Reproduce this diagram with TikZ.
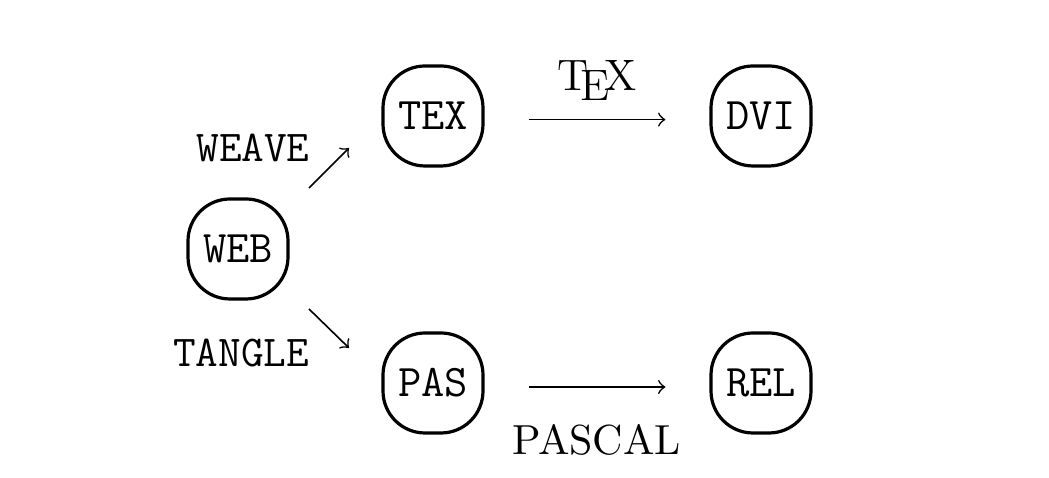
\documentclass[tikz,border=0pt]{standalone}
\usetikzlibrary{calc}
\begin{document}
\begin{tikzpicture}[x=0.25pt,y=-0.25pt,
  box/.style={draw, line width=0.8pt, rounded corners=10.5pt, minimum width=25pt, minimum height=25pt, inner sep=0pt, font=\fontsize{11.3}{13}\selectfont\ttfamily},
  arr/.style={->, line width=0.4pt},
  ttlab/.style={font=\fontsize{11}{13}\selectfont\ttfamily, inner sep=0pt, anchor=base},
  rmlab/.style={font=\fontsize{10.5}{12}\selectfont, inner sep=0pt, anchor=base}]
\useasboundingbox (0,0) rectangle (1049,478);
\node[box] (WEB) at (238,249) {WEB};
\node[box] (TEX) at (433,116) {TEX};
\node[box] (DVI) at (761,116) {DVI};
\node[box] (PAS) at (433,383) {PAS};
\node[box] (REL) at (761,383) {REL};
\coordinate (w1) at (309,188);
\coordinate (w2) at (349,148);
\coordinate (t1) at (309,309);
\coordinate (t2) at (349,348);
\draw[arr] (w1) -- (w2);
\draw[arr] (t1) -- (t2);
\draw[arr, shorten <=11pt, shorten >=11pt] ([yshift=-0.9pt]TEX.east) -- ([yshift=-0.9pt]DVI.west);
\draw[arr, shorten <=11pt, shorten >=11pt] ([yshift=-1pt]PAS.east) -- ([yshift=-1pt]REL.west);
\node[ttlab] (weave) at (253,162) {WEAVE};
\node[ttlab] (tangle) at (241,367) {TANGLE};
\node[rmlab, font=\fontsize{11}{13}\selectfont] (tex) at (597,91) {\TeX};
\node[rmlab] (pascal) at (597,455) {PASCAL};
\end{tikzpicture}
\end{document}
